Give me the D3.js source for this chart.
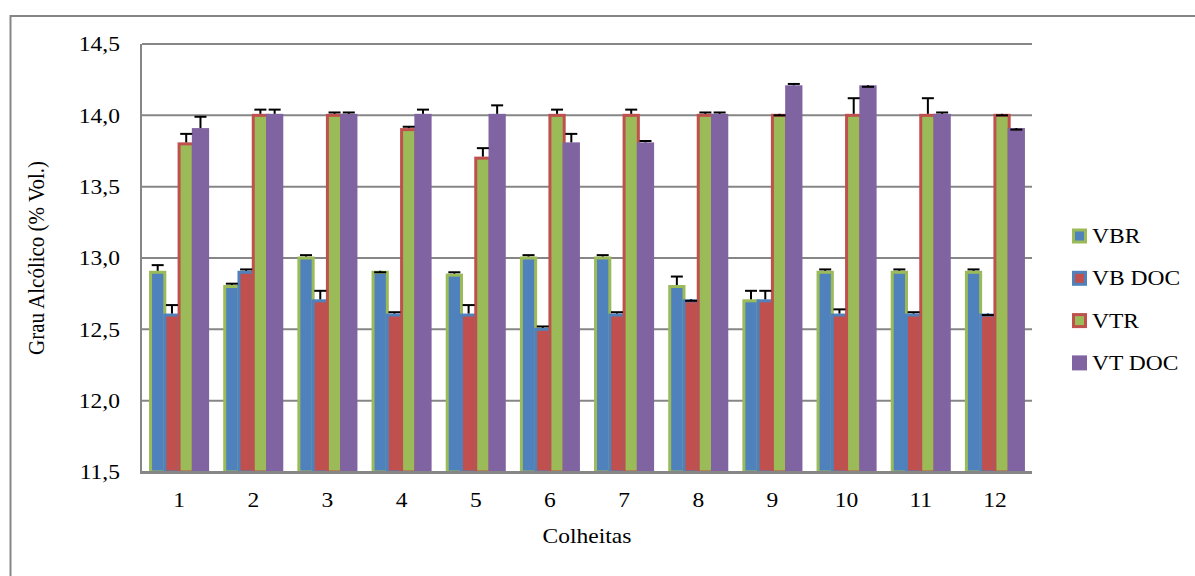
<!DOCTYPE html>
<html><head><meta charset="utf-8">
<script src="https://cdn.jsdelivr.net/npm/d3@7"></script>
<style>body{margin:0;background:#fff}svg{display:block}svg text{font-family:"Liberation Serif","Times New Roman",serif !important;fill:#000}</style>
</head><body>
<svg id="c" width="1195" height="576"></svg>
<script>
const categories = ["1","2","3","4","5","6","7","8","9","10","11","12"];
const seriesNames = ["VBR","VB DOC","VTR","VT DOC"];
const vbr     = [12.9,12.8,13.0,12.9,12.88,13.0,13.0,12.8,12.7,12.9,12.9,12.9];
const vbrErr  = [0.05,0.02,0.02,0.0,0.02,0.02,0.02,0.07,0.07,0.02,0.02,0.02];
const vbdoc    = [12.6,12.9,12.7,12.6,12.6,12.5,12.6,12.7,12.7,12.6,12.6,12.6];
const vbdocErr = [0.07,0.02,0.07,0.02,0.07,0.02,0.02,0.0,0.07,0.04,0.02,0.0];
const vtr     = [13.8,14.0,14.0,13.9,13.7,14.0,14.0,14.0,14.0,14.0,14.0,14.0];
const vtrErr  = [0.07,0.04,0.02,0.02,0.07,0.04,0.04,0.02,0.0,0.12,0.12,0.0];
const vtdoc    = [13.9,14.0,14.0,14.0,14.0,13.8,13.8,14.0,14.2,14.2,14.0,13.9];
const vtdocErr = [0.09,0.04,0.02,0.04,0.07,0.07,0.02,0.02,0.02,0.0,0.02,0.0];
const yTicks = [11.5,12.0,12.5,13.0,13.5,14.0,14.5];

const fills   = ["#4F81BD","#C0504D","#9BBB59","#8064A2"];
const strokes = ["#9BBB59","#4F81BD","#C0504D","#8064A2"];
const values = [vbr, vbdoc, vtr, vtdoc];
const errs = [vbrErr, vbdocErr, vtrErr, vtdocErr];
const FONT = "Liberation Serif";
const FS = 21;
const SX = 1.12;

const svg = d3.select("#c");
svg.append("path").attr("d","M10.5,576 L10.5,16 L1195,16").attr("fill","none").attr("stroke","#868686").attr("stroke-width",2);

const L=142, R=1032, T=44, B=472;
const x = d3.scaleBand().domain(categories).range([L,R]).paddingInner(0).paddingOuter(0);
const y = d3.scaleLinear().domain([11.5,14.5]).range([B,T]);
const nb = 4, gapRatio = 1.2;
const bw = x.bandwidth()/(nb+gapRatio);

svg.append("g").selectAll("line").data(yTicks.slice(1)).join("line")
  .attr("x1",L).attr("x2",R).attr("y1",d=>y(d)).attr("y2",d=>y(d))
  .attr("stroke","#868686").attr("stroke-width",2);

const yAxis = d3.axisLeft(y).tickValues(yTicks).tickSize(0).tickPadding(22)
  .tickFormat(d=>d3.format(".1f")(d).replace(".",","));
const gy = svg.append("g").attr("transform",`translate(${L},0)`).call(yAxis)
  .attr("font-family",FONT).attr("font-size",FS);
gy.select(".domain").remove();
gy.selectAll("text").attr("x",0).attr("transform",`translate(-22,0) scale(${SX},1)`)
  .style("font-family",FONT).style("font-size",FS+"px").attr("fill","#000");

categories.forEach((c,ci)=>{
  const cx = x(c)+x.bandwidth()/2;
  for(let s=0;s<nb;s++){
    const v = values[s][ci];
    const x0 = cx - nb*bw/2 + s*bw;
    svg.append("rect").attr("x",x0).attr("width",bw)
      .attr("y",y(v)).attr("height",y(11.5)-y(v))
      .attr("fill",fills[s]).attr("stroke",strokes[s]).attr("stroke-width",3);
  }
});
categories.forEach((c,ci)=>{
  const cx = x(c)+x.bandwidth()/2;
  for(let s=0;s<nb;s++){
    const v = values[s][ci], e = errs[s][ci];
    const xm = cx - nb*bw/2 + s*bw + bw/2;
    const g = svg.append("g").attr("stroke","#000").attr("stroke-width",2);
    g.append("line").attr("x1",xm).attr("x2",xm).attr("y1",y(v)-1.5).attr("y2",y(v+e));
    g.append("line").attr("x1",xm-6).attr("x2",xm+6).attr("y1",y(v+e)).attr("y2",y(v+e));
  }
});

svg.append("line").attr("x1",L-1).attr("x2",L-1).attr("y1",T).attr("y2",B+1).attr("stroke","#868686").attr("stroke-width",2);
svg.append("line").attr("x1",L-2).attr("x2",R).attr("y1",B+0.5).attr("y2",B+0.5).attr("stroke","#868686").attr("stroke-width",3);

const xAxis = d3.axisBottom(x).tickSize(0).tickPadding(20);
const gx = svg.append("g").attr("transform",`translate(0,${B})`).call(xAxis)
  .attr("font-family",FONT).attr("font-size",FS);
gx.select(".domain").remove();
gx.selectAll("text").attr("transform",`scale(${SX},1)`).attr("x",0)
  .style("font-family",FONT).style("font-size",FS+"px").attr("fill","#000");

svg.append("text").attr("transform",`translate(${(L+R)/2},543) scale(${SX},1)`).attr("text-anchor","middle")
  .style("font-family",FONT).style("font-size",FS+"px").text("Colheitas");
svg.append("text").attr("transform",`translate(44,258) rotate(-90) scale(1,${SX})`).attr("text-anchor","middle")
  .style("font-family",FONT).style("font-size",FS+"px").text("Grau Alcólico (% Vol.)");

const lg = svg.append("g");
seriesNames.forEach((n,i)=>{
  const yy = 236 + i*42.3;
  lg.append("rect").attr("x",1073.5).attr("y",yy-6).attr("width",12).attr("height",12)
    .attr("fill",fills[i]).attr("stroke",strokes[i]).attr("stroke-width",3);
  lg.append("text").attr("transform",`translate(1092,${yy+7}) scale(${SX},1)`)
    .style("font-family",FONT).style("font-size",FS+"px").text(n);
});
</script>
</body></html>
